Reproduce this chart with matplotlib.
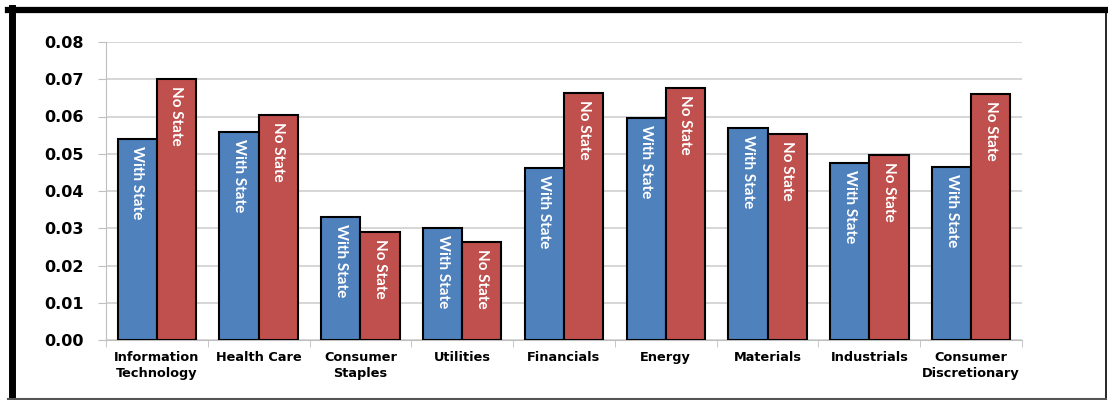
import matplotlib
matplotlib.use("Agg")
import matplotlib.pyplot as plt
from matplotlib.lines import Line2D
import numpy as np

sectors = ["Information\nTechnology", "Health Care", "Consumer\nStaples", "Utilities",
           "Financials", "Energy", "Materials", "Industrials", "Consumer\nDiscretionary"]
with_state = [0.0539, 0.0558, 0.0331, 0.0301, 0.0462, 0.0596, 0.0570, 0.0474, 0.0465]
no_state = [0.0700, 0.0604, 0.0290, 0.0262, 0.0663, 0.0676, 0.0554, 0.0496, 0.0660]
yticks = [0.00, 0.01, 0.02, 0.03, 0.04, 0.05, 0.06, 0.07, 0.08]

blue = "#4F81BD"
red = "#C0504D"

fig = plt.figure(figsize=(11.08, 4.0), dpi=100)
ax = fig.add_axes([106/1108, 60/400, 916/1108, 298/400])

x = np.arange(len(sectors))
w = 0.385
b1 = ax.bar(x - w/2, with_state, w, color=blue, edgecolor="black", linewidth=1.5, zorder=3)
b2 = ax.bar(x + w/2, no_state, w, color=red, edgecolor="black", linewidth=1.5, zorder=3)

for bars, lab in ((b1, "With State"), (b2, "No State")):
    for r in bars:
        ax.annotate(lab, xy=(r.get_x() + r.get_width()/2, r.get_height()),
                    xytext=(0, -5), textcoords="offset points", rotation=-90,
                    ha="center", va="top", color="white", fontsize=11,
                    fontweight="bold", family="Lato", zorder=4)

ax.set_xlim(-0.5, len(sectors) - 0.5)
ax.set_ylim(0, 0.08)
ax.set_yticks(yticks)
ax.set_yticklabels([f"{v:.2f}" for v in yticks], fontsize=11.5, fontweight="bold")
ax.set_xticks(x)
ax.set_xticklabels(sectors, fontsize=9.3, fontweight="bold", linespacing=1.25)
ax.tick_params(axis="x", length=0, pad=8)
ax.set_xticks(np.arange(len(sectors) + 1) - 0.5, minor=True)
ax.tick_params(axis="x", which="minor", length=5, color="#BFBFBF")
ax.tick_params(axis="y", length=6, color="#BFBFBF", pad=10)

ax.grid(axis="y", color="#D0D0D0", linewidth=1.2, zorder=0)
for s in ("top", "right"):
    ax.spines[s].set_visible(False)
ax.spines["left"].set_color("#BFBFBF")
ax.spines["bottom"].set_color("#BFBFBF")

# outer frame
fig.add_artist(Line2D([8/1108, 1106/1108], [1 - 10/400, 1 - 10/400], color="black", linewidth=4.5))
fig.add_artist(Line2D([12/1108, 12/1108], [0, 1 - 8/400], color="black", linewidth=5))
fig.add_artist(Line2D([1105.5/1108, 1105.5/1108], [0, 1 - 8/400], color="black", linewidth=1.2))
fig.add_artist(Line2D([8/1108, 1106/1108], [1/400, 1/400], color="#555555", linewidth=1.5))

fig.savefig("out.png", dpi=100)
